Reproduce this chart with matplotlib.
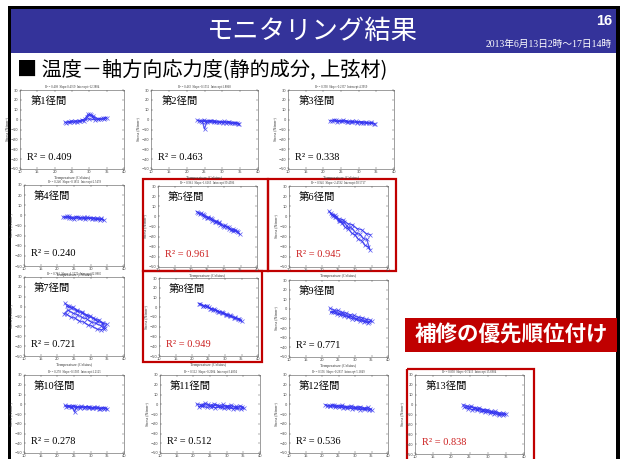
import numpy as np
import matplotlib
matplotlib.use("Agg")
import matplotlib.pyplot as plt
from matplotlib.patches import Rectangle

W, H = 630, 459
JP = ["Noto Sans CJK JP", "DejaVu Sans"]
SERIF_JP = ["Liberation Serif", "Noto Sans CJK JP"]

# --- span labels, fit quality, and spans flagged for repair priority ---
span_names = ["第1径間", "第2径間", "第3径間", "第4径間", "第5径間", "第6径間", "第7径間",
              "第8径間", "第9径間", "第10径間", "第11径間", "第12径間", "第13径間"]
r2_values = [0.409, 0.463, 0.338, 0.240, 0.961, 0.945, 0.721,
             0.949, 0.771, 0.278, 0.512, 0.536, 0.838]
flagged_spans = [5, 6, 8, 13]

# --- temperature (Celsius) / axial stress (N/mm2) traces per span ---
temp1 = [23.0, 24.2, 25.6, 27.1, 28.4, 29.3, 30.2, 31.0, 32.4, 33.8, 35.0, 34.1, 32.6, 31.2,
         30.4, 29.6, 28.7, 27.2, 25.8, 24.4, 23.4, 24.8, 26.5, 28.0, 29.8, 31.6, 33.2, 34.6]
stress1 = [-2.8, -2.2, -2.6, -1.8, -1.2, 2.8, 5.2, 4.0, 0.8, 1.2, 2.0, 0.6, 0.2, 1.8,
           4.6, 5.4, 0.4, -1.0, -1.6, -2.4, -3.2, -1.4, -2.0, -0.6, 0.8, -0.2, 0.6, 1.4]

temp2 = [23.0, 24.1, 25.2, 26.5, 27.8, 29.0, 30.3, 31.5, 32.8, 34.0, 34.8, 33.6, 32.2, 30.9, 29.6,
         28.2, 26.9, 25.6, 25.0, 24.4, 23.5, 24.8, 26.2, 27.6, 29.1, 30.6, 32.0, 33.4, 34.5]
stress2 = [-0.8, -1.2, -2.0, -1.6, -2.4, -2.0, -3.0, -2.6, -3.6, -3.2, -4.6, -3.8, -3.0, -3.4, -2.2,
           -2.8, -1.8, -2.6, -9.5, -2.0, -1.0, -0.4, -1.4, -1.0, -2.0, -1.8, -2.4, -3.0, -4.0]

temp3 = [21.8, 23.0, 24.3, 25.6, 26.9, 28.2, 29.5, 30.8, 32.1, 33.4, 34.6, 33.5, 32.0, 30.6,
         29.2, 27.8, 26.4, 25.0, 23.6, 22.4, 23.8, 25.2, 26.6, 28.0, 29.6, 31.2, 32.8, 34.2]
stress3 = [-1.2, -0.4, -1.6, -0.8, -2.0, -1.4, -2.6, -2.0, -3.2, -2.8, -4.2, -3.6, -2.4, -3.0,
           -1.8, -2.4, -1.2, -1.8, -0.6, -1.0, -2.0, -1.4, -2.6, -2.0, -3.0, -3.4, -3.6, -4.0]

temp4 = [21.7, 22.9, 24.2, 25.5, 26.8, 28.0, 29.3, 30.6, 31.8, 33.0, 34.0, 33.2, 31.9, 30.5,
         29.0, 27.6, 26.2, 24.8, 23.4, 22.2, 23.6, 25.0, 26.6, 28.2, 29.8, 31.4, 32.8]
stress4 = [-1.6, -1.0, -2.2, -1.4, -2.6, -1.8, -3.0, -2.2, -3.4, -3.0, -4.6, -3.8, -2.6, -3.4,
           -2.0, -2.8, -1.6, -2.4, -1.0, -2.0, -2.8, -3.2, -2.2, -3.6, -2.6, -3.8, -4.2]

temp5 = [21.7, 22.8, 24.0, 25.1, 26.3, 27.5, 28.6, 29.8, 31.0, 32.2, 33.4, 34.7, 34.0, 32.8, 31.5, 30.2,
         28.9, 27.7, 26.5, 25.2, 24.0, 22.9, 22.2, 23.5, 24.8, 26.0, 27.3, 28.6, 30.0, 31.4, 32.8, 34.2]
stress5 = [4.8, 2.2, 1.4, -1.8, -2.4, -5.8, -6.2, -9.6, -10.0, -13.4, -13.8, -17.6, -14.6, -12.6, -12.4, -8.8,
           -8.2, -4.6, -4.2, -0.6, -0.2, 3.2, 3.0, 2.2, -1.4, -1.8, -5.4, -6.0, -10.0, -10.6, -14.8, -15.0]

temp6 = [22.1, 23.0, 24.0, 25.0, 26.0, 27.0, 28.0, 29.0, 30.0, 31.0, 32.0, 33.0, 34.0, 34.5, 33.6, 32.5, 31.4,
         30.2, 29.0, 27.8, 26.6, 25.4, 24.2, 23.2, 22.6, 23.8, 25.0, 26.4, 27.8, 29.2, 30.6, 32.0, 33.4, 34.6]
stress6 = [5.0, 1.2, -0.6, -4.8, -6.4, -10.8, -12.2, -16.6, -18.2, -22.6, -24.0, -28.6, -30.0, -33.0, -22.8,
           -21.8, -17.6, -16.2, -11.8, -10.4, -6.0, -4.6, -0.2, 0.8, 3.4, 1.2, -2.2, -3.4, -7.2, -8.2, -12.0,
           -13.2, -17.0, -18.0]

temp7 = [22.3, 23.5, 24.8, 26.0, 27.3, 28.6, 29.9, 31.2, 32.5, 33.8, 34.8, 34.0, 33.0, 31.8, 30.5, 29.2,
         27.9, 26.6, 25.3, 24.0, 22.8, 22.0, 23.2, 24.6, 26.0, 27.4, 28.8, 30.2, 31.6, 33.0, 34.2, 33.4,
         32.0, 30.6, 29.0, 27.4, 25.8, 24.2, 22.8]
stress7 = [3.2, 0.6, -0.8, -3.6, -5.0, -8.0, -9.4, -12.4, -13.6, -16.8, -17.6, -22.4, -23.6, -22.6, -19.8,
           -18.6, -15.6, -14.6, -11.6, -10.6, -7.8, -7.2, -3.4, -6.6, -8.0, -11.0, -12.4, -15.6, -17.0,
           -19.2, -21.8, -16.6, -14.8, -11.6, -9.8, -6.4, -4.6, -1.2, 0.2]

temp8 = [22.1, 23.2, 24.4, 25.6, 26.8, 28.0, 29.2, 30.4, 31.6, 32.8, 34.0, 35.0, 34.2, 33.0, 31.8, 30.6,
         29.4, 28.2, 27.0, 25.8, 24.6, 23.4, 22.5, 23.8, 25.1, 26.4, 27.7, 29.0, 30.3, 31.6, 32.9, 34.4]
stress8 = [3.8, 1.6, 1.0, -1.4, -2.2, -4.8, -5.2, -8.0, -8.4, -11.2, -11.6, -14.0, -11.8, -11.4, -8.6, -8.2,
           -5.4, -5.0, -2.4, -1.8, 0.8, 1.4, 3.4, 1.0, 0.0, -2.6, -3.4, -6.0, -6.8, -9.4, -10.2, -13.0]

temp9 = [22.4, 23.6, 24.8, 26.0, 27.2, 28.4, 29.6, 30.8, 32.0, 33.2, 34.4, 35.0, 34.0, 32.8, 31.6, 30.4,
         29.2, 28.0, 26.8, 25.6, 24.4, 23.2, 22.6, 23.9, 25.2, 26.5, 27.8, 29.1, 30.4, 31.7, 33.0, 34.3]
stress9 = [0.6, -1.2, -1.6, -3.6, -4.2, -6.0, -6.6, -8.6, -9.0, -10.8, -11.4, -12.6, -14.6, -13.4, -12.6, -11.0,
           -10.2, -8.4, -7.8, -6.0, -5.4, -3.6, -3.4, -2.8, -4.8, -5.4, -7.4, -8.0, -10.2, -10.8, -12.6, -13.4]

temp10 = [22.3, 23.5, 24.7, 25.9, 27.1, 28.3, 29.5, 30.7, 31.9, 33.1, 34.3, 35.0, 34.0, 32.8, 31.6, 30.4,
          29.2, 28.0, 26.8, 25.6, 25.2, 24.4, 23.2, 22.6, 24.0, 25.4, 26.8, 28.2, 29.6, 31.0, 32.4, 33.8]
stress10 = [-1.2, -2.2, -1.4, -2.8, -2.0, -3.2, -2.4, -3.6, -2.8, -4.2, -3.4, -5.0, -4.4, -4.8, -3.6, -4.2,
            -3.0, -3.8, -2.6, -3.4, -8.0, -2.8, -1.8, -2.4, -3.0, -2.2, -3.4, -2.6, -3.8, -3.2, -4.4, -4.0]

temp11 = [21.0, 22.3, 23.6, 24.9, 26.2, 27.5, 28.8, 30.1, 31.4, 32.7, 34.0, 35.2, 34.4, 33.1, 31.8, 30.5,
          29.2, 27.9, 26.6, 25.3, 24.0, 22.7, 21.6, 23.0, 24.4, 25.8, 27.2, 28.6, 30.0, 31.4, 32.8, 34.6]
stress11 = [0.2, -0.8, 1.0, -1.4, 0.4, -2.0, -0.2, -2.6, -0.8, -3.4, -1.6, -3.8, -5.2, -4.2, -4.6, -3.6,
            -4.0, -3.0, -3.6, -2.4, -3.2, -2.0, -2.6, -1.2, -0.2, -1.8, -0.8, -2.4, -1.4, -3.0, -2.2, -2.8]

temp12 = [21.0, 22.3, 23.6, 24.9, 26.2, 27.5, 28.8, 30.1, 31.4, 32.7, 34.0, 35.0, 34.2, 32.9, 31.6, 30.3,
          29.0, 27.7, 26.4, 25.1, 23.8, 22.5, 21.5, 22.9, 24.3, 25.7, 27.1, 28.5, 29.9, 31.3, 32.7, 34.4]
stress12 = [-0.4, -1.4, -0.8, -2.0, -1.2, -2.6, -1.8, -3.2, -2.4, -3.8, -3.2, -5.6, -6.2, -5.0, -5.4, -4.2,
            -4.6, -3.6, -3.8, -2.8, -3.0, -2.2, -1.6, -1.0, -1.8, -2.0, -3.0, -2.6, -3.8, -3.6, -4.6, -5.0]

temp13 = [23.3, 24.4, 25.5, 26.6, 27.7, 28.8, 29.9, 31.0, 32.1, 33.2, 34.3, 35.0, 34.2, 33.0, 31.8, 30.6,
          29.4, 28.2, 27.0, 25.8, 24.6, 23.6, 24.8, 26.0, 27.2, 28.4, 29.6, 30.8, 32.0, 33.2, 34.6]
stress13 = [-0.2, -1.6, -1.8, -3.4, -3.4, -5.0, -5.2, -6.8, -6.8, -8.4, -8.6, -9.6, -10.6, -10.2, -9.0, -8.4,
            -7.4, -6.8, -5.6, -5.0, -4.0, -2.8, -2.2, -3.0, -4.4, -5.2, -6.2, -7.2, -8.0, -9.0, -9.6]

temps = [temp1, temp2, temp3, temp4, temp5, temp6, temp7, temp8, temp9, temp10, temp11, temp12, temp13]
stresses = [stress1, stress2, stress3, stress4, stress5, stress6, stress7, stress8, stress9,
            stress10, stress11, stress12, stress13]

x_ticks = [10, 15, 20, 25, 30, 35, 40]
y_ticks = [30, 20, 10, 0, -10, -20, -30, -40, -50]

# panel plot areas in slide pixels: left, top, right, bottom
panel_px = [
    (20, 90, 124, 169), (151, 90, 258, 169), (288, 90, 394, 169),
    (24, 185, 124, 266), (158, 186, 257, 267), (289, 186, 388, 267),
    (24, 277, 124, 356), (159, 278, 258, 356), (289, 280, 388, 357),
    (24, 375, 124, 453), (160, 375, 260, 453), (289, 375, 388, 453),
    (415, 375, 524, 454),
]
# the fit header is hidden under the label row above on these panels
no_header = [8, 9]
# red frames around flagged panels: left, top, right, bottom
frame_px = {5: (143, 179, 268, 271), 6: (268, 179, 396, 271),
            8: (143, 271, 262, 362), 13: (407, 369, 534, 462)}


def frac(l, t, r, b):
    return [l / W, 1 - b / H, (r - l) / W, (b - t) / H]


fig = plt.figure(figsize=(W / 100, H / 100), dpi=100)
fig.patch.set_facecolor("white")

# slide background layer drawn in pixel coordinates
bg = fig.add_axes([0, 0, 1, 1])
bg.set_xlim(0, W)
bg.set_ylim(H, 0)
bg.axis("off")
bg.set_zorder(-5)

bg.add_patch(Rectangle((11, 9), 605, 44, color="#34339a", lw=0))
bg.add_patch(Rectangle((8, 6), 612, 3, color="black", lw=0))
bg.add_patch(Rectangle((8, 6), 3, H, color="black", lw=0))
bg.add_patch(Rectangle((616, 6), 4, H, color="black", lw=0))

bg.text(312, 31, "モニタリング結果", color="white", fontsize=19, family=JP,
        ha="center", va="center")
bg.text(612, 21, "16", color="white", fontsize=10.5, fontweight="bold",
        family=["Liberation Sans"], ha="right", va="center")
bg.text(612, 44, "2013年6月13日2時～17日14時", color="white", fontsize=7,
        family=SERIF_JP, ha="right", va="center")
bg.text(17, 70, "■ 温度－軸方向応力度(静的成分, 上弦材)", color="black", fontsize=14.5,
        family=JP, ha="left", va="center")

bg.add_patch(Rectangle((405, 318), 212, 34, color="#c00000", lw=0))
bg.text(511, 335, "補修の優先順位付け", color="white", fontsize=15.5, fontweight="bold",
        family=JP, ha="center", va="center")

for num, (l, t, r, b) in frame_px.items():
    bg.add_patch(Rectangle((l, t), r - l, b - t, fill=False, ec="#c00000", lw=1.6))

for i, (name, r2, x, y) in enumerate(zip(span_names, r2_values, temps, stresses)):
    ax = fig.add_axes(frac(*panel_px[i]))
    ax.plot(x, y, color="#3030f0", lw=0.9, marker="x", ms=2.8, mew=0.5, alpha=0.8)
    ax.set_xlim(10, 40)
    ax.set_ylim(-50, 30)
    ax.set_xticks(x_ticks)
    ax.set_yticks(y_ticks)
    ax.tick_params(direction="in", length=1.5, width=0.3, labelsize=2.6, pad=1,
                   top=True, right=True, colors="#444444")
    for s in ax.spines.values():
        s.set_linewidth(0.4)
        s.set_color("#555555")
    ax.set_xlabel("Temperature (Celsius)", fontsize=3, labelpad=1,
                  family="Liberation Serif", color="#333333")
    ax.set_ylabel("Stress (N/mm²)", fontsize=2.8, labelpad=1,
                  family="Liberation Serif", color="#333333")
    if (i + 1) not in no_header:
        slope, icpt = np.polyfit(x, y, 1)
        ax.set_title(f"R² = {r2:.3f}  Slope:{slope:.4f}  Intercept:{icpt:.4f}",
                     fontsize=2.2, pad=1.5, family="Liberation Serif", color="#333333")
    flagged = (i + 1) in flagged_spans
    ax.text(13, 19, name, fontsize=7.5, family=SERIF_JP, ha="left", va="center")
    ax.text(12, -38, f"R² = {r2:.3f}", fontsize=7.5, family="Liberation Serif",
            color="#cc2020" if flagged else "black", ha="left", va="center")

fig.savefig("out.png", dpi=100)
